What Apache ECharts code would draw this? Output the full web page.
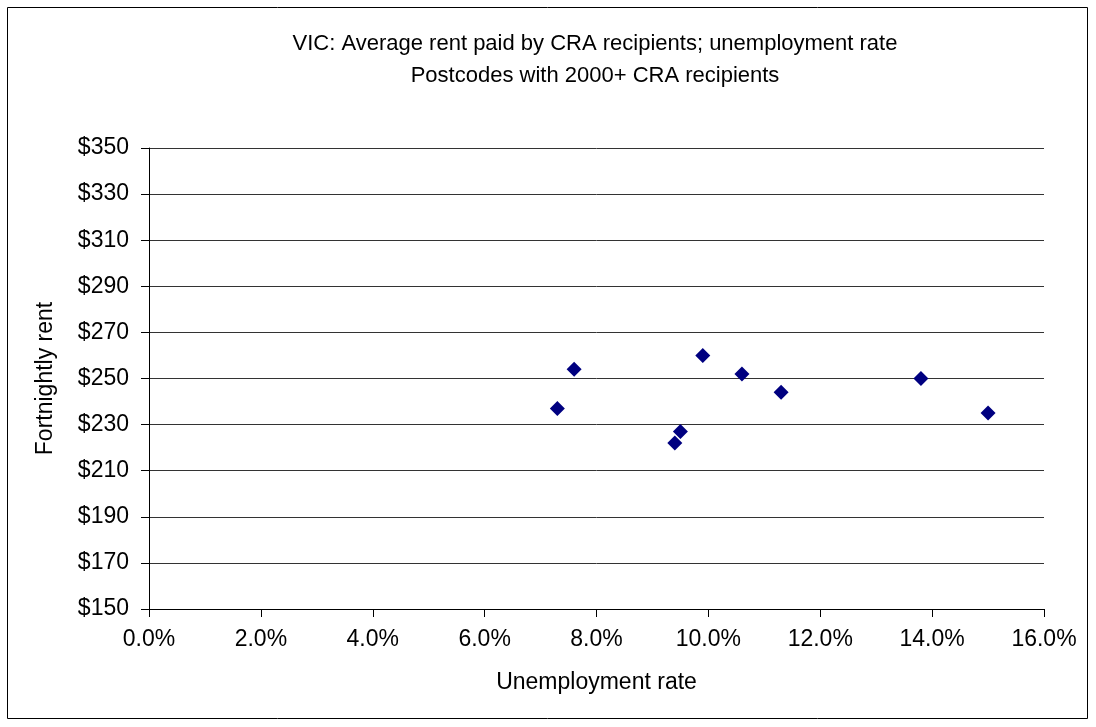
<!DOCTYPE html>
<html><head><meta charset="utf-8">
<script src="https://cdn.jsdelivr.net/npm/echarts@6/dist/echarts.min.js"></script>
<style>html,body{margin:0;padding:0;background:#fff}#c{width:1096px;height:727px}</style>
</head><body><div id="c"></div>
<script>
const titleLines = ["VIC: Average rent paid by CRA recipients; unemployment rate", "Postcodes with 2000+ CRA recipients"];
const xAxisName = "Unemployment rate";
const yAxisName = "Fortnightly rent";
const unemploymentRate = [7.3, 7.6, 9.4, 9.5, 9.9, 10.6, 11.3, 13.8, 15.0];
const fortnightlyRent = [237, 254, 222, 227, 260, 252, 244, 250, 235];

const chart = echarts.init(document.getElementById('c'));
const font = "'Liberation Sans', Arial, sans-serif";
chart.setOption({
  animation: false,
  title: {
    text: titleLines.join('\n'),
    left: 590, top: 23, textAlign: 'center',
    textStyle: { fontFamily: font, fontSize: 22, fontWeight: 'normal', color: '#000', lineHeight: 32 }
  },
  graphic: [{
    type: 'rect', shape: { x: 7.5, y: 7.5, width: 1080, height: 711 },
    style: { fill: 'none', stroke: '#000', lineWidth: 1 }, silent: true
  }],
  grid: { left: 149, top: 148, width: 895, height: 461 },
  xAxis: {
    type: 'value', min: 0, max: 16, interval: 2,
    name: xAxisName, nameLocation: 'middle', nameGap: 62,
    nameTextStyle: { fontFamily: font, fontSize: 23, color: '#000' },
    axisLine: { show: true, lineStyle: { color: '#000', width: 1 } },
    axisTick: { show: true, length: 8, inside: false, lineStyle: { color: '#000' } },
    axisLabel: { fontFamily: font, fontSize: 23, color: '#000', margin: 19, formatter: v => v.toFixed(1) + '%' },
    splitLine: { show: false }
  },
  yAxis: {
    type: 'value', min: 150, max: 350, interval: 20,
    name: yAxisName, nameLocation: 'middle', nameGap: 92, nameRotate: 90,
    nameTextStyle: { fontFamily: font, fontSize: 23, color: '#000' },
    axisLine: { show: true, lineStyle: { color: '#000', width: 1 } },
    axisTick: { show: true, length: 8, inside: false, lineStyle: { color: '#000' } },
    axisLabel: { fontFamily: font, fontSize: 23, color: '#000', margin: 20, formatter: v => '$' + v },
    splitLine: { show: true, lineStyle: { color: '#333', width: 1 } }
  },
  series: [{
    type: 'scatter',
    data: unemploymentRate.map((x, i) => [x, fortnightlyRent[i]]),
    symbol: 'diamond', symbolSize: [15, 15],
    itemStyle: { color: '#000080', opacity: 1 }
  }]
});
</script></body></html>
